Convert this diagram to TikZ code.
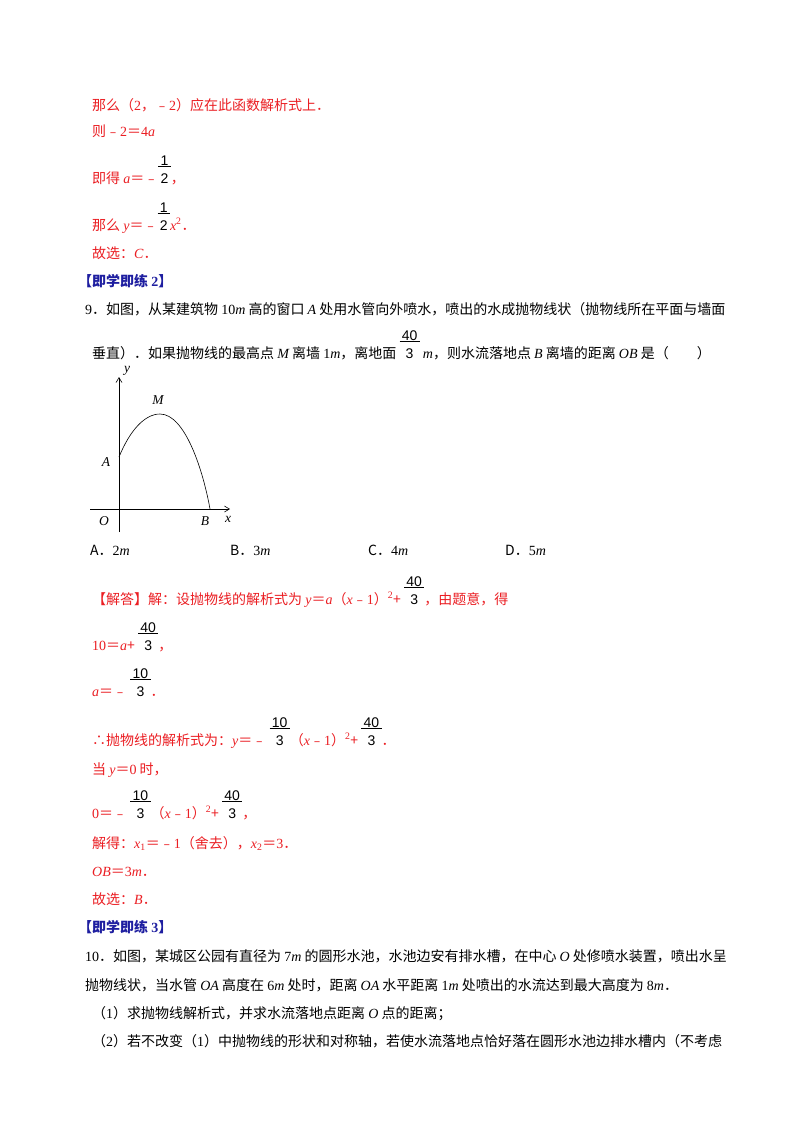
\documentclass[tikz,border=0pt]{standalone}
\usepackage{fontspec}
\usetikzlibrary{arrows.meta}
\setmainfont{Noto Sans CJK SC}
\newfontfamily\tms{Liberation Serif}
\newfontfamily\arl{Liberation Sans}
\newcommand\vi[1]{{\tms\itshape #1}}
\newcommand\nm[1]{{\tms #1}}
\newcommand\fr[2]{{\color{black}\arl\shortstack[c]{\underline{\,#1\,}\\[3pt]#2}}}
\definecolor{rd}{RGB}{235,30,35}
\definecolor{bl}{RGB}{30,30,160}
\begin{document}
\begin{tikzpicture}[x=1pt,y=-1pt,
  t/.style={anchor=base west,inner sep=0pt,font=\fontsize{14}{16}\selectfont},
  r/.style={t,text=rd},
  h/.style={t,text=bl,font=\fontsize{14}{16}\selectfont\bfseries},
  ax/.style={line width=0.6pt,-{Straight Barb[length=5pt,width=6pt]}},
  lb/.style={inner sep=1pt,font=\tms\itshape\fontsize{13.5}{14}\selectfont}]
\useasboundingbox[fill=white] (0,0) rectangle (800,1132);
\node[r] (l1) at (92,110) {那么（\nm{2}，﹣\nm{2}）应在此函数解析式上．};
\node[r] (l2) at (92,136) {则﹣\nm{2}＝\nm{4}\vi{a}};
\node[r] (l3) at (92,183) {即得 \vi{a}＝﹣\fr{1}{2}，};
\node[r] (l4) at (92,230) {那么 \vi{y}＝﹣\fr{1}{2}\vi{x}\textsuperscript{\nm{2}}．};
\node[r] (l5) at (92,258) {故选：\vi{C}．};
\node[h] (h2) at (78,286) {【即学即练 \nm{\bfseries 2}】};
\node[t] (q1) at (85,314) {\nm{9}．如图，从某建筑物 \nm{10}\vi{m} 高的窗口 \vi{A} 处用水管向外喷水，喷出的水成抛物线状（抛物线所在平面与墙面};
\node[t] (q2) at (92,358) {垂直）．如果抛物线的最高点 \vi{M} 离墙 \nm{1}\vi{m}，离地面 \fr{40}{3} \vi{m}，则水流落地点 \vi{B} 离墙的距离 \vi{OB} 是（\qquad）};
% figure
\coordinate (yb) at (119,532); \coordinate (yt) at (119,377);
\coordinate (xl) at (90,509); \coordinate (xr) at (230,509);
\draw[ax] (yb) -- (yt);
\draw[ax] (xl) -- (xr);
\coordinate (A) at (119,457); \coordinate (M) at (160,414); \coordinate (B) at (210,509);
\draw[line width=0.6pt] (A) .. controls (130,430) and (145,414) .. (M) .. controls (185,414) and (203,470) .. (B);
\node[lb] (ly) at (127,371) {y};
\node[lb] (lx) at (228,519) {x};
\node[lb] (lA) at (106,462) {A};
\node[lb] (lM) at (158,400) {M};
\node[lb] (lB) at (205,521) {B};
\node[lb] (lO) at (104,521) {O};
% choices
\node[t] (ca) at (90,555) {A．\nm{2}\vi{m}};
\node[t] (cb) at (230,555) {B．\nm{3}\vi{m}};
\node[t] (cc) at (368,555) {C．\nm{4}\vi{m}};
\node[t] (cd) at (505,555) {D．\nm{5}\vi{m}};
% solution
\node[r] (s1) at (92,604) {【解答】解：设抛物线的解析式为 \vi{y}＝\vi{a}（\vi{x}﹣\nm{1}）\textsuperscript{\nm{2}}+ \fr{40}{3}，由题意，得};
\node[r] (s2) at (92,650) {\nm{10}＝\vi{a}+ \fr{40}{3}，};
\node[r] (s3) at (92,696) {\vi{a}＝﹣ \fr{10}{3}．};
\node[r] (s4) at (92,745) {∴抛物线的解析式为：\vi{y}＝﹣ \fr{10}{3}（\vi{x}﹣\nm{1}）\textsuperscript{\nm{2}}+ \fr{40}{3}．};
\node[r] (s5) at (92,774) {当 \vi{y}＝\nm{0} 时，};
\node[r] (s6) at (92,818) {\nm{0}＝﹣ \fr{10}{3}（\vi{x}﹣\nm{1}）\textsuperscript{\nm{2}}+ \fr{40}{3}，};
\node[r] (s7) at (92,848) {解得：\vi{x}\textsubscript{\nm{1}}＝﹣\nm{1}（舍去），\vi{x}\textsubscript{\nm{2}}＝\nm{3}．};
\node[r] (s8) at (92,876) {\vi{OB}＝\nm{3}\vi{m}．};
\node[r] (s9) at (92,904) {故选：\vi{B}．};
\node[h] (h3) at (78,932) {【即学即练 \nm{\bfseries 3}】};
\node[t] (p1) at (85,961) {\nm{10}．如图，某城区公园有直径为 \nm{7}\vi{m} 的圆形水池，水池边安有排水槽，在中心 \vi{O} 处修喷水装置，喷出水呈};
\node[t] (p2) at (85,990) {抛物线状，当水管 \vi{OA} 高度在 \nm{6}\vi{m} 处时，距离 \vi{OA} 水平距离 \nm{1}\vi{m} 处喷出的水流达到最大高度为 \nm{8}\vi{m}．};
\node[t] (p3) at (92,1018) {（\nm{1}）求抛物线解析式，并求水流落地点距离 \vi{O} 点的距离；};
\node[t] (p4) at (92,1046) {（\nm{2}）若不改变（\nm{1}）中抛物线的形状和对称轴，若使水流落地点恰好落在圆形水池边排水槽内（不考虑};
\end{tikzpicture}
\end{document}
